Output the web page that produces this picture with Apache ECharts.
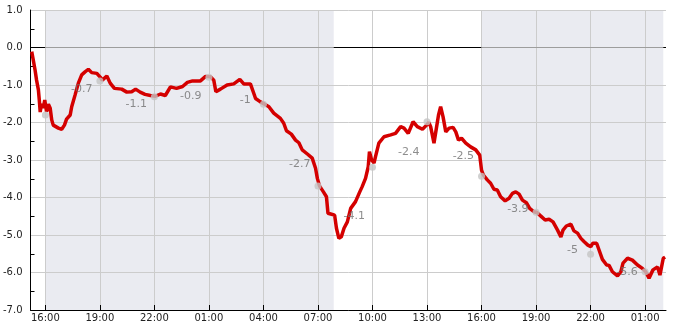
<!DOCTYPE html>
<html>
<head>
<meta charset="utf-8">
<script src="https://cdn.jsdelivr.net/npm/echarts@6/dist/echarts.min.js"></script>
<style>
html,body{margin:0;padding:0;background:#fff;}
#chart{width:685px;height:330px;}
</style>
</head>
<body>
<div id="chart"></div>
<script>
// Time in minutes after 16:00 on the first day
const times = [
  -45,-40,-34,-29,-23,-20,-17,-13,-7,-2,
  4,10,16,21,26,43,54,63,70,82,
  87,98,109,120,131,142,153,170,181,188,
  203,214,228,252,269,285,298,313,329,347,
  363,380,396,413,433,453,469,486,512,529,
  545,556,563,578,600,622,642,655,677,688,
  694,710,724,738,754,776,787,796,812,826,
  837,848,865,881,892,898,905,918,928,933,
  942,955,961,969,977,986,997,1008,1024,1038,
  1046,1057,1066,1070,1077,1085,1090,1101,1118,1140,
  1156,1173,1184,1198,1214,1228,1245,1256,1266,1272,
  1283,1291,1298,1305,1313,1322,1333,1346,1355,1364,
  1374,1388,1404,1421,1434,1440,1446,1459,1470,1481,
  1492,1503,1518,1531,1542,1553,1564,1575,1588,1599,
  1613,1623,1635,1650,1663,1676,1691,1702,1709,1720,
  1735,1745,1757,1768,1779,1791,1801,1807,1820,1828,
  1839,1853,1861,1872,1889,1900,1907,1922,1938,1955,
  1971,1982,1993,2006,2021,2029,2040,2046
];
const values = [
  -0.11,-0.33,-0.60,-0.87,-1.13,-1.40,-1.72,-1.51,-1.61,-1.40,
  -1.71,-1.51,-1.62,-1.93,-2.07,-2.15,-2.18,-2.07,-1.91,-1.80,
  -1.58,-1.27,-0.95,-0.73,-0.65,-0.58,-0.67,-0.69,-0.79,-0.87,
  -0.76,-0.95,-1.09,-1.11,-1.19,-1.18,-1.11,-1.19,-1.25,-1.28,
  -1.30,-1.24,-1.28,-1.05,-1.09,-1.04,-0.93,-0.89,-0.89,-0.77,
  -0.78,-0.87,-1.18,-1.11,-1.00,-0.97,-0.85,-0.97,-0.97,-1.22,
  -1.36,-1.45,-1.51,-1.58,-1.75,-1.89,-2.02,-2.22,-2.31,-2.47,
  -2.54,-2.73,-2.84,-2.95,-3.22,-3.49,-3.69,-3.85,-3.98,-4.42,
  -4.44,-4.47,-4.82,-5.09,-5.05,-4.82,-4.65,-4.29,-4.11,-3.85,
  -3.71,-3.49,-3.18,-2.78,-3.00,-3.08,-2.91,-2.55,-2.38,-2.33,
  -2.29,-2.11,-2.15,-2.29,-1.98,-2.11,-2.18,-2.09,-2.00,-2.11,
  -2.55,-2.15,-1.80,-1.58,-1.85,-2.25,-2.15,-2.13,-2.25,-2.47,
  -2.42,-2.55,-2.65,-2.73,-2.87,-3.27,-3.40,-3.53,-3.62,-3.78,
  -3.80,-3.98,-4.09,-4.02,-3.89,-3.85,-3.91,-4.07,-4.14,-4.29,
  -4.38,-4.40,-4.49,-4.60,-4.58,-4.65,-4.87,-5.05,-4.87,-4.76,
  -4.71,-4.89,-4.95,-5.09,-5.18,-5.27,-5.31,-5.22,-5.22,-5.40,
  -5.65,-5.80,-5.81,-5.98,-6.09,-5.98,-5.75,-5.62,-5.67,-5.80,
  -5.89,-5.98,-6.15,-5.93,-5.85,-6.07,-5.62,-5.59
];
// grey markers at each 3-hour tick
const dotTimes = [0,180,360,540,720,900,1080,1260,1440,1620,1800,1980];
const dotValues = [-1.80,-0.89,-1.31,-0.79,-1.51,-3.69,-3.19,-1.98,-3.43,-4.39,-5.51,-5.98];
// value annotations
const labelTimes = [120,300,480,660,840,1020,1200,1380,1560,1740,1920];
const labelValues = [-0.7,-1.1,-0.9,-1,-2.7,-4.1,-2.4,-2.5,-3.9,-5,-5.6];
// x tick positions and labels
const xTickValues = [0,180,360,540,720,900,1080,1260,1440,1620,1800,1980];
const xTickLabels = ['16:00','19:00','22:00','01:00','04:00','07:00','10:00','13:00','16:00','19:00','22:00','01:00'];
// shaded (night) ranges
const nightRanges = [[0,952],[1440,2040]];
const xMin = -49, xMax = 2049;

const FONT = 'DejaVu Sans';

// zero line segments: grey inside shaded ranges, black outside
const zeroSegs = [];
let cur = xMin;
nightRanges.forEach(function(r){
  zeroSegs.push([{coord:[cur,0], lineStyle:{color:'#000'}},{coord:[r[0],0]}]);
  zeroSegs.push([{coord:[r[0],0], lineStyle:{color:'#9d9d9d'}},{coord:[r[1],0]}]);
  cur = r[1];
});
zeroSegs.push([{coord:[cur,0], lineStyle:{color:'#000'}},{coord:[xMax,0]}]);

const chart = echarts.init(document.getElementById('chart'), null, {renderer:'canvas'});
chart.setOption({
  animation:false,
  grid:{left:30, right:19, top:10, bottom:20, containLabel:false},
  xAxis:{
    type:'value', min:xMin, max:xMax,
    axisLine:{show:true, onZero:false, lineStyle:{color:'#000', width:1}},
    axisTick:{show:true, inside:true, length:5, lineStyle:{color:'#000'}, customValues:xTickValues},
    axisLabel:{
      show:true, margin:3, color:'#222', fontFamily:FONT, fontSize:10,
      customValues:xTickValues,
      formatter:function(v){ const i = xTickValues.indexOf(v); return i>=0 ? xTickLabels[i] : ''; }
    },
    splitLine:{show:true, lineStyle:{color:'#cccccc', width:1}}
  },
  yAxis:{
    type:'value', min:-7, max:1, interval:1,
    axisLine:{show:true, onZero:false, lineStyle:{color:'#000', width:1}},
    axisTick:{show:false, inside:true},
    minorTick:{show:true, splitNumber:2, length:4, lineStyle:{color:'#000'}},
    axisLabel:{margin:8, color:'#222', fontFamily:FONT, fontSize:10, formatter:function(v){return v.toFixed(1);}},
    splitLine:{show:true, lineStyle:{color:'#cccccc', width:1}}
  },
  series:[
    {
      type:'line', name:'main',
      data: times.map(function(t,i){return [t, values[i]];}),
      showSymbol:false, symbol:'none',
      lineStyle:{color:'#d40000', width:3.5},
      z:3,
      markArea:{
        z:-1, silent:true,
        itemStyle:{color:'#eaebf1'},
        data: nightRanges.map(function(r){return [{xAxis:r[0]},{xAxis:r[1]}];})
      },
      markLine:{
        silent:true, symbol:'none', z:1,
        label:{show:false},
        lineStyle:{width:1, type:'solid'},
        data: zeroSegs
      }
    },
    {
      type:'scatter', name:'dots',
      data: dotTimes.map(function(t,i){return [t, dotValues[i]];}),
      symbol:'circle', symbolSize:7,
      itemStyle:{color:'#c4c4c4'},
      z:4
    },
    {
      type:'scatter', name:'labels',
      data: labelTimes.map(function(t,i){return [t, labelValues[i]];}),
      symbolSize:0,
      itemStyle:{color:'transparent'},
      label:{
        show:true, position:'inside', offset:[0,15],
        color:'#707070', fontFamily:FONT, fontSize:11,
        formatter:function(p){return String(p.value[1]);}
      },
      z:5
    }
  ]
});
</script>
</body>
</html>
